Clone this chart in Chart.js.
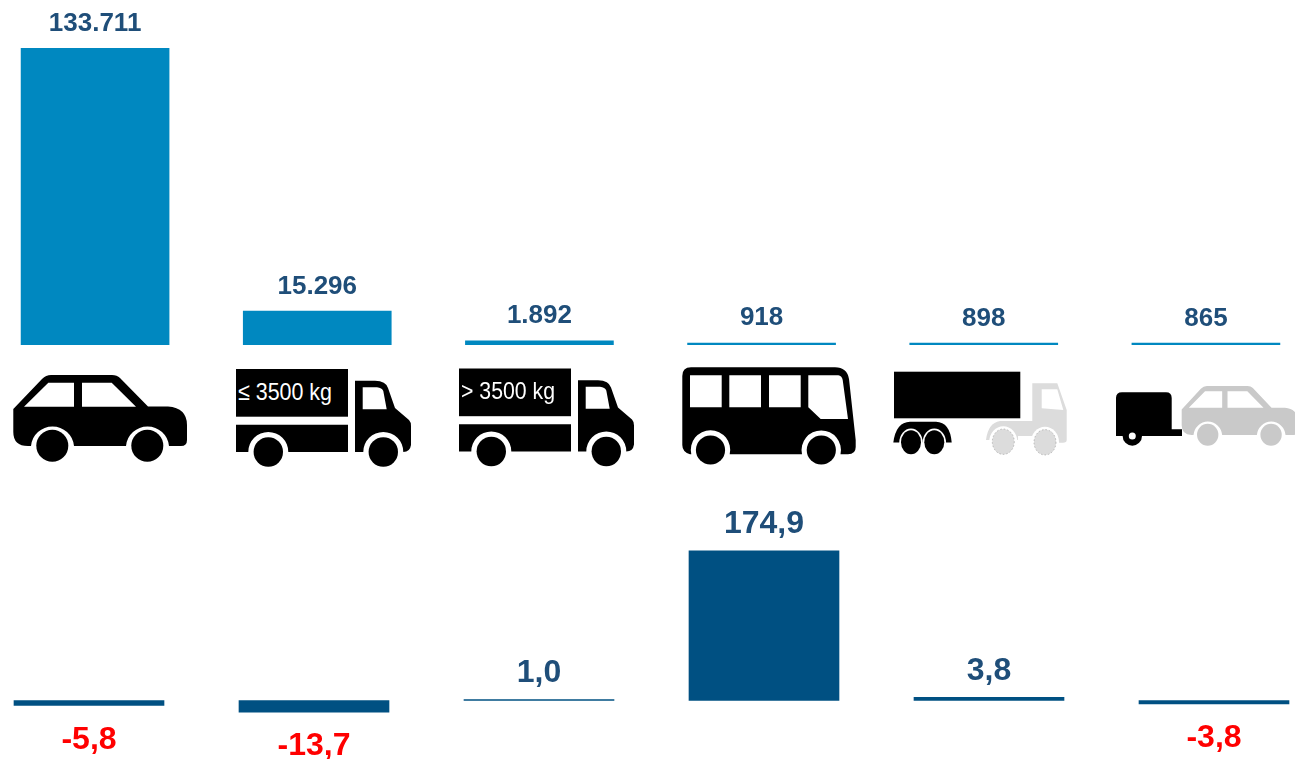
<!DOCTYPE html>
<html lang="de">
<head>
<meta charset="utf-8">
<title>Fahrzeugklassen</title>
<script src="https://cdn.jsdelivr.net/npm/chart.js@4"></script>
<style>
html,body{margin:0;padding:0;background:#fff;width:1295px;height:759px;overflow:hidden}
canvas,svg{position:absolute;display:block}
#top{left:-16px;top:0}
#bottom{left:-24px;top:490px}
#icons{left:0;top:0}
</style>
</head>
<body>
<canvas id="top" width="1333" height="345"></canvas>
<canvas id="bottom" width="1351" height="269"></canvas>
<svg id="icons" width="1295" height="759" viewBox="0 0 1295 759" xmlns="http://www.w3.org/2000/svg">
  <defs>
    <g id="car">
      <path fill-rule="evenodd" d="M13.3 409 L42 379 Q46 375 51 375 L112 375 Q117 375 120 378 L148 406.5 L168 406.5 Q187 408 187 425 L187 440 Q187 446 181 446 L169 446 A21.6 21.6 0 0 0 126 446 L74 446 A21.6 21.6 0 0 0 31 446 L28 446 Q13.3 446 13.3 432 Z M24 406.7 L48.3 382.7 L74 382.7 L74 406.7 Z M82 382.7 L111.7 382.7 L136 406.7 L82 406.7 Z"/>
      <circle cx="52.3" cy="445.7" r="16"/>
      <circle cx="147.3" cy="445.7" r="16"/>
    </g>
    <g id="truck">
      <rect x="236" y="369" width="112" height="47.7"/>
      <path d="M236 424.7 L348 424.7 L348 452 L288.3 452 A20 20 0 0 0 248.3 452 L236 452 Z"/>
      <path fill-rule="evenodd" d="M355 380.7 L375 380.7 Q386 381 388 388 L395 408 L409 420 Q411 422 411 426 L411 445 Q410 452 403.3 452 A20 20 0 0 0 363.3 452 L355 452 Z M362.7 387.3 L377 387.3 Q382 388 383.3 391 L386.7 409.3 L362.7 409.3 Z"/>
      <circle cx="268.3" cy="452" r="14.7"/>
      <circle cx="383.3" cy="452" r="14.7"/>
    </g>
  </defs>

  <use href="#car"/>
  <use href="#truck"/>
  <text x="238" y="400" fill="#fff" font-family="Liberation Sans, Arial, sans-serif" font-size="24.5" textLength="94" lengthAdjust="spacingAndGlyphs">≤ 3500 kg</text>
  <use href="#truck" transform="translate(223 -0.5)"/>
  <text x="461" y="399" fill="#fff" font-family="Liberation Sans, Arial, sans-serif" font-size="24.5" textLength="94" lengthAdjust="spacingAndGlyphs">&gt; 3500 kg</text>

  <!-- bus -->
  <path fill-rule="evenodd" d="M682.3 376 Q682.3 367.3 691 367.3 L835 367.3 Q847 367.3 849 379 L855.7 440 L855.7 447 Q855.7 454.3 848 454.3 L840.5 454.3 A19.7 19.7 0 1 0 802 454.3 L729.7 454.3 A19.7 19.7 0 1 0 691.3 454.3 L690 454.3 Q682.3 452 682.3 445 Z M690 375.3 L721.7 375.3 L721.7 407.3 L690 407.3 Z M729.3 375.3 L761 375.3 L761 407.3 L729.3 407.3 Z M769 375.3 L800.7 375.3 L800.7 407.3 L769 407.3 Z M808.3 375.3 L838.3 375.3 Q842 376 842.7 380 L848 419 L820.7 419 L808.3 407.3 Z"/>
  <circle cx="710.5" cy="450" r="14.6"/>
  <circle cx="821.3" cy="450" r="14.6"/>

  <!-- articulated lorry -->
  <rect x="894" y="371.7" width="126.3" height="46.6"/>
  <path d="M893.3 442.5 Q896 422 910 421.7 L936 421.7 Q950 422 951.7 442.5 Z"/>
  <ellipse cx="911" cy="443" rx="11.8" ry="14.5" fill="#fff"/>
  <ellipse cx="934.3" cy="443" rx="11.8" ry="14.5" fill="#fff"/>
  <ellipse cx="911" cy="442.3" rx="10" ry="12"/>
  <ellipse cx="934.3" cy="442.3" rx="10" ry="12"/>
  <path fill="#dcdcdc" fill-rule="evenodd" d="M1032.3 383.3 L1057.3 383.3 L1066.7 410 L1066.7 440 Q1066.7 442.7 1063 442.7 L1032 442.7 L1032 436 L1018 436 L1018 440 L986 440 Q988 423 1000 421 L1032.3 421 Z M1041.7 389.3 L1057.3 389.3 L1063.3 410 L1041.7 408.3 Z"/>
  <ellipse cx="1003.3" cy="441.7" rx="14" ry="15.5" fill="#fff"/>
  <ellipse cx="1045" cy="442.3" rx="14" ry="15.5" fill="#fff"/>
  <ellipse cx="1003.3" cy="441.7" rx="11" ry="12.7" fill="#dcdcdc" stroke="#999" stroke-width="0.6" stroke-dasharray="1.5 2"/>
  <ellipse cx="1045" cy="442.3" rx="11" ry="12.7" fill="#dcdcdc" stroke="#999" stroke-width="0.6" stroke-dasharray="1.5 2"/>

  <!-- car with trailer -->
  <path d="M1116 398 Q1116 392.3 1122 392.3 L1166 392.3 Q1171.7 392.3 1171.7 398 L1171.7 429.3 L1182 429.3 L1182 436 L1116 436 Z"/>
  <circle cx="1132.3" cy="436" r="9.7"/>
  <circle cx="1132.3" cy="436" r="3.5" fill="#fff"/>
  <use href="#car" fill="#c9c9c9" transform="translate(1207.7 386) scale(0.667 0.69) translate(-52.3 -375)"/>
</svg>

<script>
const categories = ["Pkw", "Lkw ≤ 3500 kg", "Lkw > 3500 kg", "Bus", "Sattelzug", "Pkw mit Anhänger"];
const vehicleCounts = [133711, 15296, 1892, 918, 898, 865];
const changeValues = [-5.8, -13.7, 1.0, 174.9, 3.8, -3.8];

const topColor = "#0088c0";
const bottomColor = "#005082";
const navy = "#1f4e79";
const red = "#ff0000";

function labelPlugin(format, fontSize, colorFor, offsetUp, offsetDown) {
  return {
    id: "valueLabels",
    afterDatasetsDraw(chart) {
      const ctx = chart.ctx;
      const meta = chart.getDatasetMeta(0);
      const values = chart.data.datasets[0].data;
      ctx.save();
      ctx.font = "bold " + fontSize + "px 'Liberation Sans', Arial, sans-serif";
      ctx.textAlign = "center";
      ctx.textBaseline = "alphabetic";
      meta.data.forEach((bar, i) => {
        const v = values[i];
        ctx.fillStyle = colorFor(v);
        const y = v >= 0 ? bar.y - offsetUp : bar.y + offsetDown;
        ctx.fillText(format(v), bar.x, y);
      });
      ctx.restore();
    }
  };
}

function barOptions(min, max, padding) {
  return {
    responsive: false,
    animation: false,
    layout: { padding: padding },
    plugins: { legend: { display: false }, tooltip: { enabled: false }, title: { display: false } },
    scales: {
      x: { display: false, offset: true },
      y: { display: false, min: min, max: max }
    }
  };
}

new Chart(document.getElementById("top"), {
  type: "bar",
  data: {
    labels: categories,
    datasets: [{ data: vehicleCounts, backgroundColor: topColor, borderWidth: 0, barThickness: 148 }]
  },
  options: barOptions(0, 155500, 0),
  plugins: [labelPlugin(
    v => String(v).replace(/\B(?=(\d{3})+$)/g, "."),
    26, () => navy, 17.5, 0
  )]
});

new Chart(document.getElementById("bottom"), {
  type: "bar",
  data: {
    labels: categories,
    datasets: [{ data: changeValues, backgroundColor: bottomColor, borderWidth: 0, barThickness: 150 }]
  },
  options: barOptions(-68.3, 246, { left: 0.5, right: 0.5, top: 0, bottom: 0 }),
  plugins: [labelPlugin(
    v => v.toFixed(1).replace(".", ","),
    32, v => (v < 0 ? red : navy), 17.5, 43
  )]
});
</script>
</body>
</html>
